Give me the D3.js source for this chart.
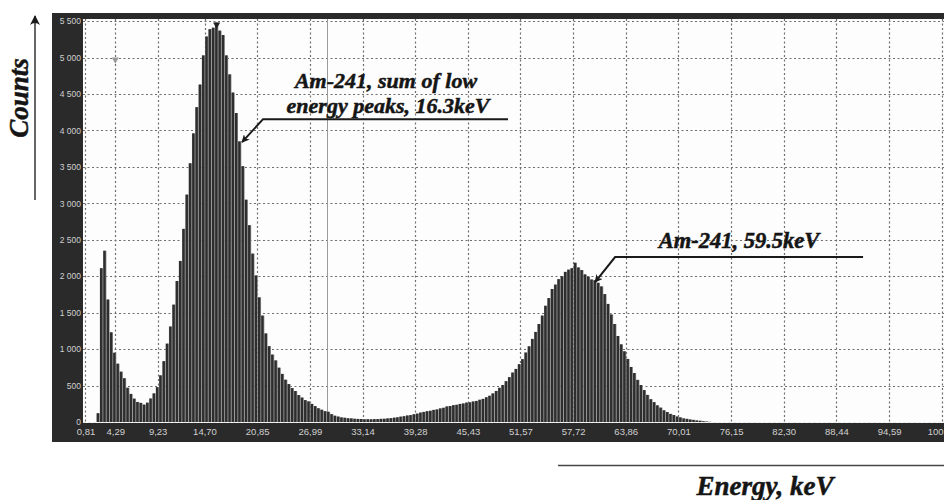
<!DOCTYPE html>
<html>
<head>
<meta charset="utf-8">
<script src="https://cdn.jsdelivr.net/npm/d3@7/dist/d3.min.js"></script>
<style>
  html, body { margin: 0; padding: 0; background: #fff; }
  svg { display: block; }
</style>
</head>
<body>
<svg id="chart" width="944" height="500"></svg>
<script>
// ---------------- DATA ----------------
const binStart = 2.10;     // keV, left edge of first displayed bin
const binWidth = 0.384;    // keV per bar
const counts = [
  120, 2110, 2350, 1680, 1230, 950, 800, 690, 600, 470,
  385, 320, 275, 262, 238, 265, 322, 392, 478, 640,
  835, 1075, 1310, 1610, 1935, 2210, 2650, 3120, 3550, 3960,
  4320, 4630, 5030, 5290, 5390, 5410, 5480, 5370, 5310, 5030,
  4770, 4520, 4240, 3850, 3510, 3050, 2700, 2310, 2010, 1710,
  1460, 1215, 1040, 925, 845, 745, 660, 580, 520, 465,
  425, 370, 335, 300, 282, 248, 218, 188, 168, 148,
  140, 108, 86, 74, 63, 58, 51, 49, 44, 42,
  41, 37, 38, 36, 39, 40, 43, 44, 49, 52,
  59, 64, 73, 79, 89, 95, 106, 115, 129, 138,
  148, 154, 166, 172, 186, 195, 213, 219, 231, 236,
  248, 254, 266, 270, 281, 289, 305, 317, 339, 360,
  392, 426, 469, 508, 560, 615, 678, 728, 793, 862,
  953, 1038, 1140, 1236, 1345, 1460, 1595, 1700, 1825, 1885,
  1960, 2000, 2060, 2090, 2110, 2185, 2120, 2085, 2025, 1995,
  1955, 1945, 1910, 1860, 1755, 1620, 1475, 1345, 1180, 1065,
  970, 865, 755, 672, 578, 507, 438, 372, 313, 272,
  228, 197, 160, 137, 111, 96, 75, 63, 49, 43,
  34, 29, 21, 17, 10, 6, 2
];
const xTickValues = [0.81, 4.29, 9.23, 14.70, 20.85, 26.99, 33.14, 39.28, 45.43, 51.57, 57.72, 63.86, 70.01, 76.15, 82.30, 88.44, 94.59, 100.73];
const xTickLabels = ["0,81", "4,29", "9,23", "14,70", "20,85", "26,99", "33,14", "39,28", "45,43", "51,57", "57,72", "63,86", "70,01", "76,15", "82,30", "88,44", "94,59", "100,73"];
const yTickValues = [0, 500, 1000, 1500, 2000, 2500, 3000, 3500, 4000, 4500, 5000, 5500];
const cursorEnergy = 29.0;
const annotations = [
  { lines: ["Am-241, sum of low", "energy peaks, 16.3keV"], energy: 19.08, count: 3840 },
  { lines: ["Am-241, 59.5keV"], energy: 60.28, count: 1920 }
];
const yTitle = "Counts";
const xTitle = "Energy, keV";

// ---------------- LAYOUT ----------------
const svg = d3.select("#chart");
const W = 944, H = 500;
const plot = { left: 83, right: 944, top: 19, bottom: 422 };

const x = d3.scaleLinear().domain([0.52, 101.0]).range([plot.left, plot.right]);
const y = d3.scaleLinear().domain([0, 5530]).range([plot.bottom, plot.top]);

const serif = "'Liberation Serif', 'DejaVu Serif', serif";
const sans = "'Liberation Sans', Arial, sans-serif";

// dark frame
svg.append("rect").attr("x", 52).attr("y", 13).attr("width", W - 52).attr("height", 429).attr("fill", "#2a2a2a");
// plot background
svg.append("rect").attr("x", plot.left).attr("y", plot.top).attr("width", plot.right - plot.left).attr("height", plot.bottom - plot.top + 1).attr("fill", "#fdfdfd");

// grid
const grid = svg.append("g");
grid.selectAll("line.v").data(xTickValues).join("line")
  .attr("x1", d => Math.round(x(d)) + 0.5).attr("x2", d => Math.round(x(d)) + 0.5)
  .attr("y1", plot.top).attr("y2", plot.bottom)
  .attr("stroke", "#6e6e6e").attr("stroke-width", 1.2).attr("stroke-dasharray", "2,2.5");
grid.selectAll("line.h").data(yTickValues.filter(d => d > 0)).join("line")
  .attr("x1", plot.left).attr("x2", plot.right)
  .attr("y1", d => Math.round(y(d)) + 0.5).attr("y2", d => Math.round(y(d)) + 0.5)
  .attr("stroke", "#6e6e6e").attr("stroke-width", 1.2).attr("stroke-dasharray", "2,2.5");

// cursor line
svg.append("line")
  .attr("x1", Math.round(x(cursorEnergy)) + 0.5).attr("x2", Math.round(x(cursorEnergy)) + 0.5)
  .attr("y1", plot.top).attr("y2", plot.bottom)
  .attr("stroke", "#9a9a9a").attr("stroke-width", 1);

// histogram bars
const bw = x(binWidth) - x(0);
const bars = svg.append("g");
bars.selectAll("rect.bg").data(counts).join("rect")
  .attr("x", (d, i) => x(binStart + i * binWidth))
  .attr("y", d => y(d))
  .attr("width", bw)
  .attr("height", d => y(0) - y(d))
  .attr("fill", "#8e8e8e");
bars.selectAll("rect.fg").data(counts).join("rect")
  .attr("x", (d, i) => x(binStart + i * binWidth) + 0.2)
  .attr("y", d => y(d))
  .attr("width", bw * 0.72)
  .attr("height", d => y(0) - y(d))
  .attr("fill", "#2e2e2e");

// zero line
svg.append("line").attr("x1", plot.left).attr("x2", plot.right)
  .attr("y1", plot.bottom + 0.5).attr("y2", plot.bottom + 0.5)
  .attr("stroke", "#e8e8e8").attr("stroke-width", 1.2).attr("stroke-dasharray", "3,2");

// small markers
svg.append("path")
  .attr("d", d3.symbol().type(d3.symbolTriangle).size(22)())
  .attr("transform", `translate(${x(4.29)},${y(5000) + 2}) rotate(180)`)
  .attr("fill", "#999");
const peakIdx = counts.indexOf(d3.max(counts));
svg.append("path")
  .attr("d", d3.symbol().type(d3.symbolTriangle).size(22)())
  .attr("transform", `translate(${x(binStart + (peakIdx + 0.5) * binWidth)},${y(counts[peakIdx]) + 2}) rotate(180)`)
  .attr("fill", "#222");

// axes
const fmt = d3.formatLocale({ decimal: ",", thousands: " ", grouping: [3], currency: ["", ""] }).format(",");
const yAxis = svg.append("g").attr("transform", `translate(${plot.left - 2},0)`)
  .call(d3.axisLeft(y).tickValues(yTickValues).tickSize(0).tickPadding(0).tickFormat(fmt));
yAxis.select(".domain").remove();
yAxis.selectAll("text").attr("fill", "#d0d0d0").attr("font-family", sans).attr("font-size", "8.5px");

const xAxis = svg.append("g").attr("transform", `translate(0,${plot.bottom})`)
  .call(d3.axisBottom(x).tickValues(xTickValues).tickSize(0).tickPadding(6)
    .tickFormat((d, i) => xTickLabels[i]));
xAxis.select(".domain").remove();
xAxis.selectAll("text").attr("fill", "#d0d0d0").attr("font-family", sans).attr("font-size", "9.5px");

// arrow marker defs
const defs = svg.append("defs");
defs.append("marker").attr("id", "ah").attr("viewBox", "0 0 10 10")
  .attr("refX", 9).attr("refY", 5).attr("markerWidth", 8).attr("markerHeight", 8)
  .attr("orient", "auto-start-reverse").attr("markerUnits", "userSpaceOnUse")
  .append("path").attr("d", "M0,0 L10,5 L0,10 L3,5 Z").attr("fill", "#1a1a1a");
defs.append("marker").attr("id", "ah2").attr("viewBox", "0 0 10 10")
  .attr("refX", 9).attr("refY", 5).attr("markerWidth", 12).attr("markerHeight", 10)
  .attr("orient", "auto").attr("markerUnits", "userSpaceOnUse")
  .append("path").attr("d", "M0,0 Q6,3 10,5 Q6,7 0,10 Q4,5 0,0 Z").attr("fill", "#1a1a1a");

function boldText(sel) {
  return sel.attr("font-family", serif).attr("font-weight", "bold").attr("font-style", "italic")
    .attr("fill", "#151515").attr("stroke", "#151515").attr("stroke-width", 0.5);
}

// annotations
const ann = svg.append("g");
{
  const a = annotations[0];
  const tx = x(a.energy), ty = y(a.count);
  ann.append("path")
    .attr("d", `M${tx + 266},${ty - 23} L${tx + 21},${ty - 23} L${tx},${ty}`)
    .attr("fill", "none").attr("stroke", "#1a1a1a").attr("stroke-width", 2)
    .attr("marker-end", "url(#ah)");
  a.lines.forEach((t, k) => {
    boldText(ann.append("text").attr("x", 386 + k * 2).attr("y", 88 + k * 25)
      .attr("text-anchor", "middle").attr("font-size", "22px")).text(t);
  });
}
{
  const a = annotations[1];
  const tx = x(a.energy), ty = y(a.count);
  ann.append("path")
    .attr("d", `M${tx + 268},${ty - 25} L${tx + 20},${ty - 25} L${tx},${ty}`)
    .attr("fill", "none").attr("stroke", "#1a1a1a").attr("stroke-width", 2)
    .attr("marker-end", "url(#ah)");
  boldText(ann.append("text").attr("x", 739).attr("y", 248)
    .attr("text-anchor", "middle").attr("font-size", "22.5px")).text(a.lines[0]);
}

// Y title with arrow
boldText(svg.append("text").attr("transform", "translate(28,98) rotate(-90)")
  .attr("text-anchor", "middle").attr("font-size", "27px")).text(yTitle);
svg.append("line").attr("x1", 35).attr("x2", 35).attr("y1", 200).attr("y2", 16)
  .attr("stroke", "#333").attr("stroke-width", 1.5).attr("marker-end", "url(#ah2)");

// X title with rule
svg.append("line").attr("x1", 558).attr("x2", 944).attr("y1", 465.5).attr("y2", 465.5)
  .attr("stroke", "#444").attr("stroke-width", 1.5);
boldText(svg.append("text").attr("x", 765).attr("y", 495)
  .attr("text-anchor", "middle").attr("font-size", "27px")).text(xTitle);
</script>
</body>
</html>
